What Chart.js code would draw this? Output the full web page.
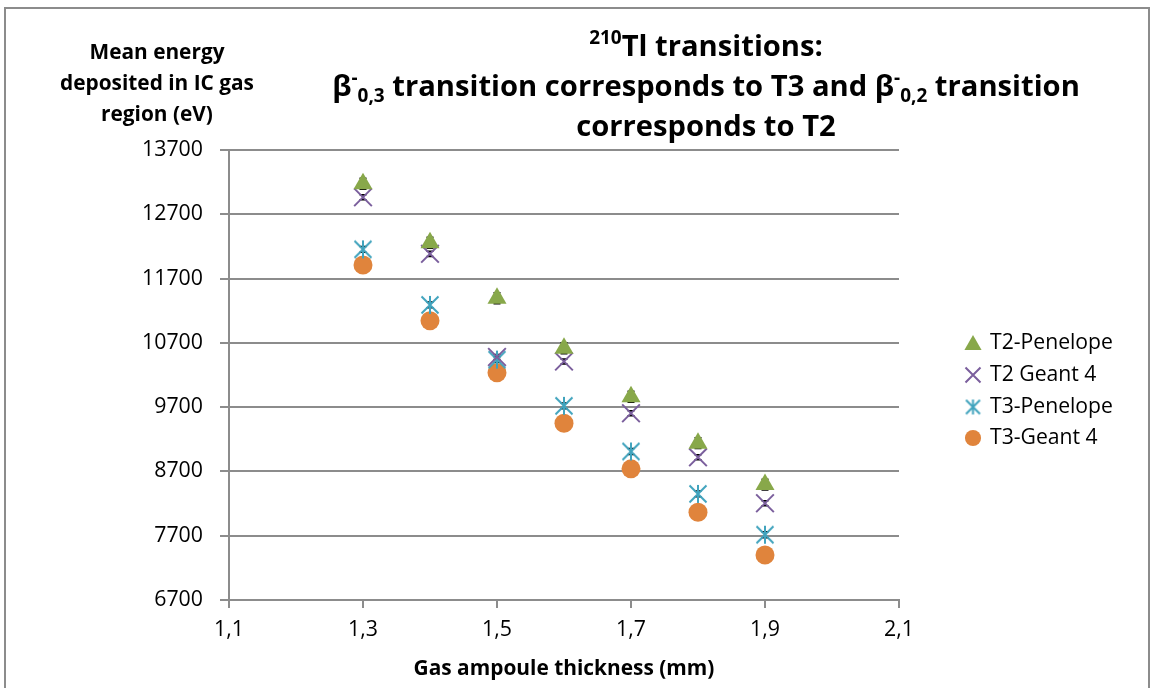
<!DOCTYPE html>
<html>
<head>
<meta charset="utf-8">
<script src="https://cdn.jsdelivr.net/npm/chart.js@4/dist/chart.umd.min.js"></script>
<style>
  html, body { margin: 0; padding: 0; background: #ffffff; }
  #wrap { width: 1151px; height: 688px; position: relative; }
</style>
</head>
<body>
<div id="wrap"><canvas id="c" width="1151" height="688"></canvas></div>
<script>
// ---- data ----
const thickness = [1.3, 1.4, 1.5, 1.6, 1.7, 1.8, 1.9];
const t2Penelope = [13175, 12258, 11395, 10617, 9863, 9140, 8495];
const t2Geant4   = [12965, 12085, 10480, 10410, 9605, 8920, 8205];
const t3Penelope = [12155, 11290, 10440, 9720, 9010, 8350, 7715];
const t3Geant4   = [11910, 11045, 10235, 9450, 8740, 8065, 7400];
const t2PenelopeErr = [85, 85, 85, 85, 85, 85, 85];
const t2Geant4Err   = [40, 40, 40, 40, 40, 40, 40];
const t3PenelopeErr = [45, 45, 45, 45, 45, 45, 45];
const t3Geant4Err   = [40, 40, 40, 40, 40, 40, 40];
const seriesNames = ['T2-Penelope', 'T2 Geant 4', 'T3-Penelope', 'T3-Geant 4'];
const xTicks = [1.1, 1.3, 1.5, 1.7, 1.9, 2.1];
const yTicks = [6700, 7700, 8700, 9700, 10700, 11700, 12700, 13700];
const titleLines = [
  [{t: '210', s: 'sup'}, {t: 'Tl transitions:'}],
  [{t: 'β'}, {t: '-', s: 'sup'}, {t: '0,3', s: 'sub'}, {t: ' transition corresponds to T3 and β'}, {t: '-', s: 'sup'}, {t: '0,2', s: 'sub'}, {t: ' transition'}],
  [{t: 'corresponds to T2'}]
];
const yTitleLines = ['Mean energy', 'deposited in IC gas', 'region (eV)'];
const xTitle = 'Gas ampoule thickness (mm)';

const FONT = '"Open Sans", "Liberation Sans", sans-serif';
const GRID = '#8c8c8c';
const COLORS = ['#88a84a', '#7b5f9d', '#40a3bd', '#e0843c'];

// font sizes fitted so text widths match the reference
const mctx = document.createElement('canvas').getContext('2d');
function fitSize(text, weight, target) {
  mctx.font = weight + ' 100px ' + FONT;
  return 100 * target / mctx.measureText(text).width;
}
function richWidth(segs, size) {
  let w = 0;
  segs.forEach(s => {
    mctx.font = 'bold ' + (s.s ? size * 0.65 : size) + 'px ' + FONT;
    w += mctx.measureText(s.t).width;
  });
  return w;
}
const TITLE_SIZE = 100 * 748 / richWidth(titleLines[1], 100);
const YTITLE_SIZE = fitSize('deposited in IC gas', 'bold', 194);
const LEGEND_SIZE = fitSize('T2-Penelope', 'normal', 123);
const TICK_SIZE = fitSize('13700', 'normal', 61);
const XTITLE_SIZE = fitSize(xTitle, 'bold', 301);

function pts(arr) { return thickness.map((x, i) => ({x: x, y: arr[i]})); }

function makeAsterisk(size, color, lw) {
  const c = document.createElement('canvas');
  c.width = size; c.height = size;
  const g = c.getContext('2d');
  g.strokeStyle = color; g.lineWidth = lw;
  const m = size / 2, a = 1, b = size - 1;
  g.beginPath();
  g.moveTo(m, a); g.lineTo(m, b);
  g.moveTo(a + 0.5, a + 0.5); g.lineTo(b - 0.5, b - 0.5);
  g.moveTo(b - 0.5, a + 0.5); g.lineTo(a + 0.5, b - 0.5);
  g.stroke();
  return c;
}
const asterisk = makeAsterisk(20, COLORS[2], 2);
const asteriskSmall = makeAsterisk(17, COLORS[2], 2);

const styles = [
  {pointStyle: 'triangle', pointRadius: 11, backgroundColor: COLORS[0], borderColor: COLORS[0], borderWidth: 0},
  {pointStyle: 'crossRot', pointRadius: 12.5, backgroundColor: COLORS[1], borderColor: COLORS[1], borderWidth: 2},
  {pointStyle: asterisk, pointRadius: 10, backgroundColor: COLORS[2], borderColor: COLORS[2], borderWidth: 2},
  {pointStyle: 'circle', pointRadius: 9.5, backgroundColor: COLORS[3], borderColor: COLORS[3], borderWidth: 0}
];
const seriesData = [t2Penelope, t2Geant4, t3Penelope, t3Geant4];
const seriesErr = [t2PenelopeErr, t2Geant4Err, t3PenelopeErr, t3Geant4Err];

const datasets = seriesData.map((arr, i) => Object.assign({
  label: seriesNames[i],
  data: pts(arr),
  showLine: false,
  pointHoverRadius: styles[i].pointRadius,
  errors: seriesErr[i]
}, styles[i]));

// ---- plugins ----
const frame = {
  id: 'frame',
  beforeDraw(chart) {
    const ctx = chart.ctx;
    ctx.save();
    ctx.fillStyle = '#ffffff';
    ctx.fillRect(0, 0, chart.width, chart.height);
    ctx.strokeStyle = GRID; ctx.lineWidth = 2;
    ctx.strokeRect(5, 8, 1144, 700);
    ctx.restore();
  }
};

const errorBars = {
  id: 'errorBars',
  beforeDatasetsDraw(chart) {
    const ctx = chart.ctx, ys = chart.scales.y, xs = chart.scales.x;
    ctx.save();
    ctx.strokeStyle = '#000000'; ctx.lineWidth = 1.5;
    chart.data.datasets.forEach(ds => {
      ds.data.forEach((p, i) => {
        const e = ds.errors[i];
        const px = xs.getPixelForValue(p.x);
        const y1 = ys.getPixelForValue(p.y + e), y2 = ys.getPixelForValue(p.y - e);
        ctx.beginPath();
        ctx.moveTo(px, y1); ctx.lineTo(px, y2);
        ctx.moveTo(px - 3.5, y1); ctx.lineTo(px + 3.5, y1);
        ctx.moveTo(px - 3.5, y2); ctx.lineTo(px + 3.5, y2);
        ctx.stroke();
      });
    });
    ctx.restore();
  }
};

function drawRich(ctx, segs, cx, cy, size) {
  const base = 'bold ' + size + 'px ' + FONT;
  const small = 'bold ' + (size * 0.65) + 'px ' + FONT;
  let w = 0;
  segs.forEach(s => { ctx.font = s.s ? small : base; s.w = ctx.measureText(s.t).width; w += s.w; });
  let x = cx - w / 2;
  ctx.textBaseline = 'middle';
  ctx.textAlign = 'left';
  segs.forEach(s => {
    ctx.font = s.s ? small : base;
    let dy = 0;
    if (s.s === 'sup') dy = -size * 0.33;
    if (s.s === 'sub') dy = size * 0.3;
    ctx.fillText(s.t, x, cy + dy);
    x += s.w;
  });
}

const texts = {
  id: 'texts',
  afterDraw(chart) {
    const ctx = chart.ctx;
    ctx.save();
    ctx.fillStyle = '#000000';
    const ty = [48, 88, 128];
    titleLines.forEach((l, i) => drawRich(ctx, l, 706, ty[i], TITLE_SIZE));
    ctx.font = 'bold ' + YTITLE_SIZE + 'px ' + FONT;
    ctx.textAlign = 'center'; ctx.textBaseline = 'middle';
    const yy = [53, 84, 115];
    yTitleLines.forEach((l, i) => ctx.fillText(l, 157, yy[i]));
    // legend
    const ly = [343, 375, 407, 438];
    chart.data.datasets.forEach((ds, i) => {
      ctx.fillStyle = ds.backgroundColor;
      ctx.strokeStyle = ds.borderColor;
      ctx.lineWidth = ds.borderWidth;
      const ps = (i === 2) ? asteriskSmall : ds.pointStyle;
      Chart.helpers.drawPoint(ctx, {
        pointStyle: ps, radius: ds.pointRadius * (i === 0 ? 0.9 : 0.85), borderWidth: ds.borderWidth
      }, 973, ly[i] + (i === 0 ? 2 : 0));
      ctx.fillStyle = '#000000';
      ctx.font = LEGEND_SIZE + 'px ' + FONT;
      ctx.textAlign = 'left'; ctx.textBaseline = 'middle';
      ctx.fillText(ds.label, 990, ly[i]);
    });
    ctx.restore();
  }
};

new Chart(document.getElementById('c'), {
  type: 'scatter',
  data: {datasets: datasets},
  plugins: [frame, errorBars, texts],
  options: {
    responsive: false,
    animation: false,
    events: [],
    layout: {padding: {left: 0, top: 150, right: 252, bottom: 0}},
    plugins: {legend: {display: false}, title: {display: false}, tooltip: {enabled: false}},
    scales: {
      x: {
        type: 'linear', min: 1.1, max: 2.1,
        afterBuildTicks: s => { s.ticks = xTicks.map(v => ({value: v})); },
        afterFit: s => { s.height = 88; },
        grid: {drawOnChartArea: false, drawTicks: true, tickLength: 8, color: GRID, lineWidth: 2},
        border: {color: GRID, width: 2},
        ticks: {
          color: '#000000', font: {family: FONT, size: TICK_SIZE}, padding: 9, maxRotation: 0,
          callback: v => v.toFixed(1).replace('.', ',')
        },
        title: {display: true, text: xTitle, color: '#000000', font: {family: FONT, size: XTITLE_SIZE, weight: 'bold'}, padding: {top: 0, bottom: 6}}
      },
      y: {
        type: 'linear', min: 6700, max: 13700,
        afterBuildTicks: s => { s.ticks = yTicks.map(v => ({value: v})); },
        afterFit: s => { s.width = 229; },
        grid: {drawTicks: true, tickLength: 9, color: GRID, lineWidth: 2},
        border: {color: GRID, width: 2},
        ticks: {color: '#000000', font: {family: FONT, size: TICK_SIZE}, padding: 17, callback: v => String(v)}
      }
    }
  }
});
</script>
</body>
</html>
